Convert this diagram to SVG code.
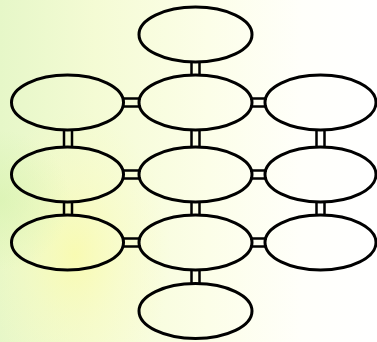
<svg xmlns="http://www.w3.org/2000/svg" width="377" height="342" viewBox="0 0 377 342">
<defs>
<linearGradient id="bg" x1="0" y1="0" x2="1" y2="0">
<stop offset="0" stop-color="#e6f7c8"/>
<stop offset="0.25" stop-color="#f4fbd4"/>
<stop offset="0.55" stop-color="#fcfee8"/>
<stop offset="0.8" stop-color="#fffffa"/>
<stop offset="1" stop-color="#ffffff"/>
</linearGradient>
<radialGradient id="glow" cx="75" cy="255" r="120" gradientUnits="userSpaceOnUse" gradientTransform="translate(75 255) scale(0.8 1.2) translate(-75 -255)">
<stop offset="0" stop-color="#fbfba8" stop-opacity="0.75"/>
<stop offset="0.5" stop-color="#fbfbb8" stop-opacity="0.35"/>
<stop offset="1" stop-color="#fbfbc0" stop-opacity="0"/>
</radialGradient>
<radialGradient id="glow2" cx="0" cy="200" r="70" gradientUnits="userSpaceOnUse">
<stop offset="0" stop-color="#d8f3b0" stop-opacity="0.7"/>
<stop offset="1" stop-color="#d8f3b0" stop-opacity="0"/>
</radialGradient>
</defs>
<style>
.n{fill:none;stroke:#000;stroke-width:3}
.c{stroke:#000;stroke-width:2.5;fill:none}
</style>
<rect width="377" height="342" fill="url(#bg)"/>
<rect width="377" height="342" fill="url(#glow)"/>
<rect width="377" height="342" fill="url(#glow2)"/>
<g id="connectors">
<path class="c" d="M191.5 61V76M199.5 61V76"/>
<path class="c" d="M122 98.5H141M122 106.5H141"/>
<path class="c" d="M250 98.5H267M250 106.5H267"/>
<path class="c" d="M64 129V148M72 129V148"/>
<path class="c" d="M191.5 129V148M199.5 129V148"/>
<path class="c" d="M316.5 129V148M324.5 129V148"/>
<path class="c" d="M122 170.5H141M122 178.5H141"/>
<path class="c" d="M250 170.5H267M250 178.5H267"/>
<path class="c" d="M64 201V216M72 201V216"/>
<path class="c" d="M191.5 201V216M199.5 201V216"/>
<path class="c" d="M316.5 201V216M324.5 201V216"/>
<path class="c" d="M122 238.5H141M122 246.5H141"/>
<path class="c" d="M250 238.5H267M250 246.5H267"/>
<path class="c" d="M191.5 269V285M199.5 269V285"/>
</g>
<g id="n-top"><ellipse class="n" cx="195.5" cy="34.5" rx="56.5" ry="27.5"/></g>
<g id="n-r1-left"><ellipse class="n" cx="67.5" cy="102.5" rx="56" ry="27.5"/></g>
<g id="n-r1-mid"><ellipse class="n" cx="195.5" cy="102.5" rx="56.5" ry="27.5"/></g>
<g id="n-r1-right"><ellipse class="n" cx="320.5" cy="102.5" rx="55.5" ry="27.5"/></g>
<g id="n-r2-left"><ellipse class="n" cx="67.5" cy="174.5" rx="56" ry="27.5"/></g>
<g id="n-r2-mid"><ellipse class="n" cx="195.5" cy="174.5" rx="56.5" ry="27.5"/></g>
<g id="n-r2-right"><ellipse class="n" cx="320.5" cy="174.5" rx="55.5" ry="27.5"/></g>
<g id="n-r3-left"><ellipse class="n" cx="67.5" cy="242.5" rx="56" ry="27.5"/></g>
<g id="n-r3-mid"><ellipse class="n" cx="195.5" cy="242.5" rx="56.5" ry="27.5"/></g>
<g id="n-r3-right"><ellipse class="n" cx="320.5" cy="242.5" rx="55.5" ry="27.5"/></g>
<g id="n-bottom"><ellipse class="n" cx="195.5" cy="311" rx="56.5" ry="27.5"/></g>
</svg>
